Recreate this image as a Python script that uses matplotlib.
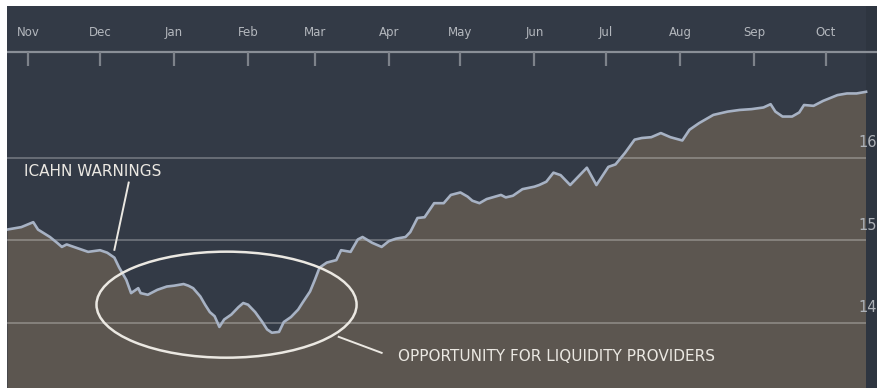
import matplotlib
matplotlib.use("Agg")
import matplotlib.pyplot as plt
import matplotlib.dates as mdates
from matplotlib.patches import Ellipse
import pandas as pd

dates = [
    "2013-10-23", "2013-10-29", "2013-11-03", "2013-11-05", "2013-11-10", "2013-11-13",
    "2013-11-15", "2013-11-17", "2013-11-21", "2013-11-26", "2013-12-01", "2013-12-04",
    "2013-12-07", "2013-12-09", "2013-12-12", "2013-12-14", "2013-12-17", "2013-12-18",
    "2013-12-21", "2013-12-25", "2013-12-29", "2014-01-01", "2014-01-05", "2014-01-07",
    "2014-01-09", "2014-01-12", "2014-01-14", "2014-01-16", "2014-01-18", "2014-01-20",
    "2014-01-22", "2014-01-25", "2014-01-28", "2014-01-30", "2014-02-01", "2014-02-04",
    "2014-02-07", "2014-02-09", "2014-02-11", "2014-02-14", "2014-02-16", "2014-02-19",
    "2014-02-22", "2014-02-24", "2014-02-27", "2014-03-01", "2014-03-03", "2014-03-06",
    "2014-03-10", "2014-03-12", "2014-03-16", "2014-03-19", "2014-03-21", "2014-03-25",
    "2014-03-29", "2014-04-01", "2014-04-04", "2014-04-08", "2014-04-10", "2014-04-13",
    "2014-04-16", "2014-04-20", "2014-04-24", "2014-04-27", "2014-05-01", "2014-05-04",
    "2014-05-06", "2014-05-09", "2014-05-12", "2014-05-18", "2014-05-20", "2014-05-23",
    "2014-05-27", "2014-06-01", "2014-06-03", "2014-06-06", "2014-06-09", "2014-06-12",
    "2014-06-16", "2014-06-19", "2014-06-23", "2014-06-27", "2014-07-02", "2014-07-05",
    "2014-07-09", "2014-07-13", "2014-07-16", "2014-07-20", "2014-07-24", "2014-07-28",
    "2014-08-02", "2014-08-05", "2014-08-09", "2014-08-15", "2014-08-21", "2014-08-26",
    "2014-08-31", "2014-09-05", "2014-09-08", "2014-09-10", "2014-09-13", "2014-09-17",
    "2014-09-20", "2014-09-22", "2014-09-26", "2014-09-30", "2014-10-06", "2014-10-10",
    "2014-10-14", "2014-10-18",
]
prices = [
    15.13, 15.16, 15.22, 15.13, 15.04, 14.97,
    14.92, 14.95, 14.91, 14.86, 14.88, 14.85,
    14.79, 14.67, 14.52, 14.36, 14.42, 14.36,
    14.34, 14.40, 14.44, 14.45, 14.47, 14.45,
    14.42, 14.32, 14.22, 14.13, 14.08, 13.95,
    14.04, 14.10, 14.19, 14.24, 14.22, 14.13,
    14.01, 13.92, 13.88, 13.89, 14.01, 14.07,
    14.16, 14.25, 14.38, 14.52, 14.67, 14.73,
    14.76, 14.88, 14.86, 15.01, 15.04, 14.97,
    14.92, 14.99, 15.02, 15.04, 15.10, 15.27,
    15.28, 15.45, 15.45, 15.55, 15.58, 15.53,
    15.48, 15.45, 15.50, 15.55, 15.52, 15.54,
    15.62, 15.65, 15.67, 15.71, 15.82, 15.79,
    15.67, 15.76, 15.88, 15.67, 15.89, 15.92,
    16.06, 16.22, 16.24, 16.25, 16.30, 16.25,
    16.21, 16.34, 16.42, 16.52, 16.56, 16.58,
    16.59, 16.61, 16.65, 16.56, 16.50, 16.50,
    16.55, 16.64, 16.63, 16.69, 16.76, 16.78,
    16.78, 16.80,
]
months = pd.date_range("2013-11-01", "2014-10-01", freq="MS")
month_labels = ["Nov", "Dec", "Jan", "Feb", "Mar", "Apr",
                "May", "Jun", "Jul", "Aug", "Sep", "Oct"]
levels = [14, 15, 16]

navy = "#333a46"
brown = "#5c5650"
strip = "#2e3540"

x = pd.to_datetime(dates)

fig = plt.figure(figsize=(8.78, 3.88), dpi=100, facecolor="white")
ax = fig.add_axes([7 / 878, 0, 871 / 878, 382 / 388])
ax.set_facecolor(navy)

x_start = pd.Timestamp("2013-10-23")
x_end = pd.Timestamp("2014-10-23")
ax.set_xlim(x_start, x_end)
ax.set_ylim(13.21, 17.84)

ax.fill_between(x, 13.0, prices, color=brown, lw=0, zorder=1)
ax.plot(x, prices, color="#a7b2c4", lw=1.9, zorder=4, solid_joinstyle="round")

for lv in levels:
    ax.axhline(lv, color="white", alpha=0.28, lw=1.3, zorder=2)
    ax.text(1.0, 0, str(lv), color="#aeb2b8", fontsize=10.5, va="center", ha="right",
            transform=ax.get_yaxis_transform(), zorder=6,
            position=(0.999, lv + 0.18))

# dark strip on the right behind the value labels
ax.axvspan(pd.Timestamp("2014-10-18"), x_end, color=strip, lw=0, zorder=3)

# month scale along the top
ax.axhline(17.285, color="#8a8f97", lw=1.6, zorder=5)
ax.vlines(months, 17.115, 17.285, color="#7d828a", lw=1.6, zorder=5)
for m, lab in zip(months, month_labels):
    ax.text(m, 17.515, lab, color="#b3b7bd", fontsize=8.5,
            ha="center", va="center", zorder=6)

# annotations
note = "#ebe8e2"
ax.text(pd.Timestamp("2013-10-30"), 15.83, "ICAHN WARNINGS", color=note,
        fontsize=11, ha="left", va="center", zorder=6)
ax.plot(pd.to_datetime(["2013-12-13", "2013-12-07"]), [15.70, 14.885],
        color=note, lw=1.4, zorder=6)

ax.add_patch(Ellipse((mdates.date2num(pd.Timestamp("2014-01-23")), 14.22),
                     width=109, height=1.285, fill=False, edgecolor=note,
                     lw=1.8, zorder=6))

ax.plot(pd.to_datetime(["2014-03-11", "2014-03-29"]), [13.83, 13.636],
        color=note, lw=1.4, zorder=6)
ax.text(pd.Timestamp("2014-04-05"), 13.59, "OPPORTUNITY FOR LIQUIDITY PROVIDERS",
        color=note, fontsize=11, ha="left", va="center", zorder=6)

ax.set_xticks([])
ax.set_yticks([])
for s in ax.spines.values():
    s.set_visible(False)

fig.savefig("out.png", dpi=100, facecolor="white")
